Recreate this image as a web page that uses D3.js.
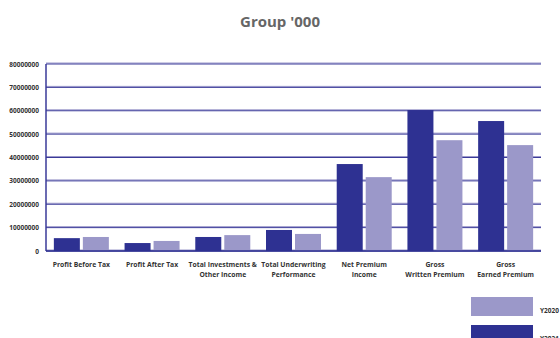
<!DOCTYPE html>
<html>
<head>
<meta charset="utf-8">
<script src="https://cdn.jsdelivr.net/npm/d3@7"></script>
<style>
  html, body { margin: 0; padding: 0; background: #fff; overflow: hidden; }
  text { font-family: "Open Sans", "Noto Sans", sans-serif; }
</style>
</head>
<body>
<svg id="view"></svg>
<script>
var categories = [
  ["Profit Before Tax"],
  ["Profit After Tax"],
  ["Total Investments &", "Other Income"],
  ["Total Underwriting", "Performance"],
  ["Net Premium", "Income"],
  ["Gross", "Written Premium"],
  ["Gross", "Earned Premium"]
];
var series = ["Y2021", "Y2020"];
var y2021 = [5500000, 3400000, 6000000, 9000000, 37200000, 60300000, 55600000];
var y2020 = [6000000, 4300000, 6800000, 7300000, 31600000, 47400000, 45300000];
var yTicks = [0, 10000000, 20000000, 30000000, 40000000, 50000000, 60000000, 70000000, 80000000];

var colors = { Y2021: "#2e3192", Y2020: "#9b98c9" };

var width = 560, height = 338;
var svg = d3.select("#view").attr("width", width).attr("height", height);

var plotLeft = 46, plotRight = 541, plotTop = 64, plotBottom = 251;

var keys = categories.map((c, i) => i);
var x0 = d3.scaleBand().domain(keys).range([plotLeft, plotRight]).padding(0);
var groupW = 55;
var x1 = d3.scaleBand().domain(series).range([0, groupW]).paddingInner(3 / 29);
var y = d3.scaleLinear().domain([0, 80000000]).range([plotBottom, plotTop]);

// title
svg.append("text")
  .attr("x", 280).attr("y", 27)
  .attr("text-anchor", "middle")
  .attr("font-size", 15).attr("font-weight", "bold")
  .attr("fill", "#666")
  .text("Group '000");

// gridlines
var grid = svg.append("g");
grid.selectAll("line.light").data(yTicks).join("line")
  .attr("class", "light")
  .attr("x1", plotLeft).attr("x2", plotRight)
  .attr("y1", d => y(d) - 1).attr("y2", d => y(d) - 1)
  .attr("stroke", "#9d9acb").attr("stroke-width", 1);
grid.selectAll("line.dark").data(yTicks).join("line")
  .attr("class", "dark")
  .attr("x1", plotLeft).attr("x2", plotRight)
  .attr("y1", d => y(d)).attr("y2", d => y(d))
  .attr("stroke", "#3a3a98").attr("stroke-width", 1);

// y axis
var yAxis = svg.append("g")
  .attr("transform", "translate(" + plotLeft + ",0)")
  .call(d3.axisLeft(y).tickValues(yTicks).tickSize(0).tickPadding(7).tickFormat(d3.format("d")));
yAxis.select(".domain").attr("stroke", "#3a3a98").attr("stroke-width", 1.5)
  .attr("d", "M0," + plotTop + "V" + plotBottom);
yAxis.selectAll("text")
  .attr("font-size", 6.5).attr("font-weight", "bold").attr("fill", "#333")
  .style("font-family", "'Open Sans', sans-serif");

// bars
var rows = keys.map(i => ({ i: i, Y2021: y2021[i], Y2020: y2020[i] }));
var groups = svg.append("g").selectAll("g").data(rows).join("g")
  .attr("transform", d => "translate(" + (x0(d.i) + (x0.bandwidth() - groupW) / 2) + ",0)");
groups.selectAll("rect")
  .data(d => series.map(s => ({ key: s, value: d[s] })))
  .join("rect")
  .attr("x", d => x1(d.key))
  .attr("width", x1.bandwidth())
  .attr("y", d => y(d.value))
  .attr("height", d => y(0) - y(d.value))
  .attr("fill", d => colors[d.key]);

// baseline
svg.append("line")
  .attr("x1", plotLeft).attr("x2", plotRight)
  .attr("y1", y(0)).attr("y2", y(0))
  .attr("stroke", "#2e3192").attr("stroke-width", 1.5);

// x labels
var xl = svg.append("g").selectAll("text").data(categories).join("text")
  .attr("x", (d, i) => x0(i) + x0.bandwidth() / 2)
  .attr("y", 267)
  .attr("text-anchor", "middle")
  .attr("font-size", 6.8).attr("font-weight", "bold").attr("fill", "#333");
xl.selectAll("tspan").data(d => d).join("tspan")
  .attr("x", function () { return d3.select(this.parentNode).attr("x"); })
  .attr("dy", (d, j) => j === 0 ? 0 : 10)
  .text(d => d);

// legend
var legendOrder = ["Y2020", "Y2021"];
var lg = svg.append("g").selectAll("g").data(legendOrder).join("g")
  .attr("transform", (d, i) => "translate(471," + (297 + i * 28) + ")");
lg.append("rect").attr("width", 62).attr("height", 19).attr("fill", d => colors[d]);
lg.append("text")
  .attr("x", 69).attr("y", 16)
  .attr("font-size", 6.5).attr("font-weight", "bold").attr("fill", "#333")
  .text(d => d);
</script>
</body>
</html>
